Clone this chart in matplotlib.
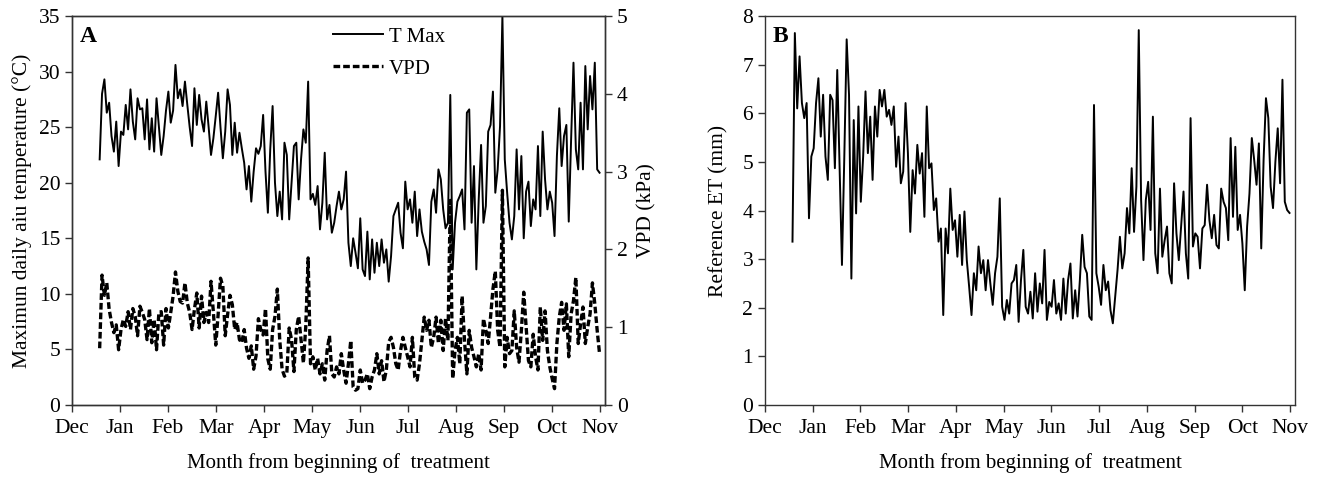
import numpy as np
import matplotlib.pyplot as plt

plt.rcParams['font.family'] = 'Liberation Serif'
plt.rcParams['font.size'] = 15

months = ["Dec", "Jan", "Feb", "Mar", "Apr", "May", "Jun",
          "Jul", "Aug", "Sep", "Oct", "Nov"]
month_len = 30.4      # days per tick interval
start_day = 17.5      # first record (days after 1 Dec)
step = 1.5            # days between records

# maximum daily air temperature (C)
tmax = [
    22.1, 28.0, 29.3, 26.3, 27.2, 24.2, 22.8, 25.5, 21.5,
    24.6, 24.3, 27.0, 24.8, 28.4, 25.5, 23.9, 27.6, 26.6, 26.7, 23.9, 27.5, 23.0, 25.8, 22.8, 27.6, 25.0, 22.5, 24.2, 26.5,
    28.2, 25.4, 26.5, 30.6, 27.6, 28.4, 26.9, 29.1, 27.0, 25.0, 23.3, 28.5, 25.2, 27.9, 25.7, 24.6, 27.3, 25.0, 22.5, 24.0,
    26.0, 28.1, 25.0, 22.2, 24.6, 28.4, 27.0, 22.5, 25.4, 22.7, 24.5, 23.1, 21.8, 19.4, 21.5, 18.3, 21.0, 23.1, 22.6, 23.3,
    26.1, 21.0, 17.3, 23.0, 26.9, 20.0, 17.0, 19.2, 16.7, 23.6, 22.5, 16.7, 20.0, 23.3, 23.6, 18.5, 22.1, 24.8, 23.6, 29.1,
    18.5, 19.0, 18.0, 19.7, 15.8, 18.2, 22.7, 16.7, 18.0, 15.5, 16.4, 17.9, 19.2, 17.6, 18.5, 21.0, 14.6, 12.5, 15.0, 13.7,
    12.3, 16.8, 12.2, 11.6, 15.6, 11.3, 14.9, 11.9, 14.6, 12.5, 14.9, 12.8, 14.0, 11.1, 13.4, 17.0, 17.6, 18.2, 15.5, 14.1,
    20.1, 17.6, 18.5, 16.4, 19.2, 15.2, 17.6, 15.6, 14.7, 14.0, 12.6, 18.3, 19.4, 17.3, 21.2, 20.3, 17.6, 15.9, 16.4, 27.9,
    12.2, 16.4, 18.3, 18.8, 19.4, 15.8, 26.3, 26.6, 16.4, 21.5, 12.2, 18.5, 23.4, 16.4, 17.9, 24.6, 25.2, 28.2, 19.1, 21.2,
    25.1, 35.0, 22.1, 19.1, 16.4, 14.9, 17.0, 23.0, 17.6, 22.4, 15.0, 19.2, 20.1, 16.1, 18.5, 17.6, 23.3, 17.0, 24.6, 20.3,
    17.6, 19.2, 18.2, 15.2, 22.4, 26.7, 21.5, 24.2, 25.2, 16.5, 23.9, 30.8, 23.0, 21.2, 27.2, 21.2, 30.5, 24.8, 29.6, 26.6,
    30.8, 21.2, 20.9,
]

# vapour pressure deficit (kPa)
vpd = [
    0.73, 1.67, 1.41, 1.57, 1.23, 1.06, 0.93, 1.03, 0.71,
    0.97, 1.10, 1.01, 1.20, 0.97, 1.24, 1.14, 0.89, 1.27, 1.19, 1.10, 0.84, 1.24, 0.80, 1.10, 0.71, 1.19, 1.20, 0.77, 1.24,
    0.99, 1.19, 1.40, 1.71, 1.46, 1.33, 1.31, 1.57, 1.31, 1.19, 0.97, 1.23, 1.44, 0.99, 1.40, 1.06, 1.19, 1.06, 1.59, 1.19,
    0.77, 1.16, 1.63, 1.53, 0.89, 1.16, 1.41, 1.29, 0.97, 1.06, 0.84, 0.80, 0.97, 0.73, 0.60, 0.76, 0.46, 0.63, 1.11, 0.97,
    0.90, 1.24, 0.59, 0.46, 0.97, 1.14, 1.49, 0.84, 0.46, 0.37, 0.41, 0.99, 0.84, 0.43, 0.97, 1.14, 0.84, 0.54, 1.01, 1.89,
    0.53, 0.62, 0.45, 0.60, 0.40, 0.53, 0.32, 0.70, 0.89, 0.40, 0.36, 0.49, 0.40, 0.66, 0.45, 0.28, 0.53, 0.83, 0.23, 0.19,
    0.21, 0.45, 0.28, 0.32, 0.40, 0.21, 0.36, 0.45, 0.66, 0.40, 0.57, 0.30, 0.45, 0.81, 0.87, 0.74, 0.53, 0.45, 0.70, 0.87,
    0.74, 0.62, 0.49, 0.87, 0.36, 0.32, 0.53, 0.83, 1.13, 0.96, 1.09, 0.74, 0.87, 1.13, 0.79, 1.09, 0.70, 1.11, 0.83, 2.63,
    0.34, 0.70, 0.87, 0.53, 1.40, 0.83, 0.40, 0.96, 0.74, 0.62, 0.49, 0.66, 0.45, 1.11, 0.96, 0.79, 1.13, 1.49, 1.72, 0.96,
    0.74, 2.76, 0.49, 0.87, 0.66, 0.70, 1.21, 0.74, 0.55, 0.96, 1.45, 1.00, 0.57, 0.49, 0.91, 0.62, 0.45, 1.26, 0.83, 1.21,
    0.70, 0.49, 0.34, 0.21, 0.79, 1.13, 1.32, 0.96, 1.30, 0.62, 1.17, 1.34, 1.64, 0.79, 1.04, 1.26, 0.79, 1.00, 1.17, 1.57,
    1.30, 0.96, 0.66,
]

# reference evapotranspiration (mm)
ref_et = [
    3.36, 7.65, 6.10, 7.17, 6.21, 5.90, 6.21, 3.84, 5.11,
    5.28, 6.21, 6.72, 5.52, 6.38, 5.11, 4.63, 6.38, 6.27, 4.87, 6.89, 4.90, 2.88, 5.11, 7.52, 6.38, 2.60, 5.86, 3.94, 6.14,
    4.18, 5.11, 6.45, 5.18, 5.93, 4.63, 6.14, 5.52, 6.48, 6.14, 6.48, 5.93, 6.07, 5.76, 6.14, 4.90, 5.52, 4.56, 4.80, 6.21,
    5.18, 3.56, 4.83, 4.35, 5.35, 4.76, 5.18, 3.87, 6.14, 4.87, 4.97, 4.01, 4.25, 3.36, 3.63, 1.85, 3.63, 3.12, 4.45, 3.60,
    3.80, 3.05, 3.91, 2.88, 3.98, 2.98, 2.43, 1.85, 2.71, 2.36, 3.26, 2.71, 2.98, 2.36, 2.98, 2.50, 2.06, 2.71, 3.05, 4.25,
    2.02, 1.75, 2.16, 1.88, 2.50, 2.57, 2.88, 1.71, 2.57, 3.19, 2.02, 1.88, 2.33, 1.78, 2.71, 1.92, 2.50, 2.09, 3.19, 1.75,
    2.12, 2.02, 2.57, 1.88, 2.09, 1.75, 2.60, 1.88, 2.57, 2.91, 1.78, 2.36, 1.82, 2.57, 3.50, 2.84, 2.71, 1.82, 1.75, 6.17,
    2.71, 2.43, 2.06, 2.88, 2.36, 2.54, 1.95, 1.68, 2.23, 2.78, 3.46, 2.81, 3.12, 4.05, 3.53, 4.87, 3.56, 4.49, 7.71, 4.22,
    2.98, 4.22, 4.59, 3.60, 5.93, 3.12, 2.71, 4.45, 3.05, 3.39, 3.67, 2.71, 2.50, 4.56, 3.53, 2.98, 3.67, 4.39, 3.12, 2.60,
    5.90, 3.26, 3.53, 3.46, 2.81, 3.63, 3.70, 4.53, 3.80, 3.43, 3.91, 3.29, 3.22, 4.45, 4.18, 4.05, 3.39, 5.49, 3.87, 5.31,
    3.60, 3.91, 3.32, 2.36, 3.67, 4.35, 5.49, 5.04, 4.53, 5.38, 3.22, 5.04, 6.31, 5.90, 4.49, 4.05, 5.00, 5.69, 4.56, 6.69,
    4.18, 4.01, 3.95,
]

days = start_day + step * np.arange(len(tmax))
month_ticks = month_len * np.arange(len(months))
xmax = 337.5


def style_axis(ax):
    ax.set_xlim(0, xmax)
    ax.set_xticks(month_ticks)
    ax.set_xticklabels(months)
    ax.tick_params(direction='out', length=5, width=1, color='#333333', labelsize=15.5)
    ax.tick_params(axis='x', pad=5)
    for s in ax.spines.values():
        s.set_linewidth(1)
        s.set_color('#333333')
    ax.set_xlabel("Month from beginning of  treatment", labelpad=11, fontsize=15)


fig = plt.figure(figsize=(13.24, 4.78), dpi=100)

# panel A
ax1 = fig.add_axes([0.0544, 0.1527, 0.4026, 0.8138])
ax2 = ax1.twinx()
l1, = ax1.plot(days, tmax, color='black', lw=1.4, label="T Max")
l2, = ax2.plot(days, vpd, color='black', lw=2.4, linestyle=(0, (2, 0.9)), label="VPD")
style_axis(ax1)
ax1.set_ylim(0, 35)
ax1.set_yticks(np.arange(0, 36, 5))
ax2.set_ylim(0, 5)
ax2.set_yticks(np.arange(0, 6, 1))
ax2.tick_params(direction='out', length=5, width=1, color='#333333', labelsize=15.5)
for s in ax2.spines.values():
    s.set_linewidth(1)
    s.set_color('#333333')
ax1.set_ylabel("Maximun daily aiu temperature (°C)", labelpad=5, fontsize=15.5)
ax2.set_ylabel("VPD (kPa)", labelpad=7, fontsize=15.5)
ax1.text(0.015, 0.975, "A", transform=ax1.transAxes, va='top', ha='left',
         fontsize=17, fontweight='bold')
ax1.legend([l1, l2], ["T Max", "VPD"], loc='upper left', bbox_to_anchor=(0.455, 1.02),
           frameon=False, handlelength=2.4, handletextpad=0.25, labelspacing=0.6,
           fontsize=15)

# panel B
ax3 = fig.add_axes([0.5778, 0.1527, 0.4003, 0.8138])
ax3.plot(days, ref_et, color='black', lw=1.4)
style_axis(ax3)
ax3.set_ylim(0, 8)
ax3.set_yticks(np.arange(0, 9, 1))
ax3.set_ylabel("Reference ET (mm)", labelpad=10, fontsize=15.5)
ax3.text(0.015, 0.975, "B", transform=ax3.transAxes, va='top', ha='left',
         fontsize=17, fontweight='bold')

fig.savefig("out.png", dpi=100)
